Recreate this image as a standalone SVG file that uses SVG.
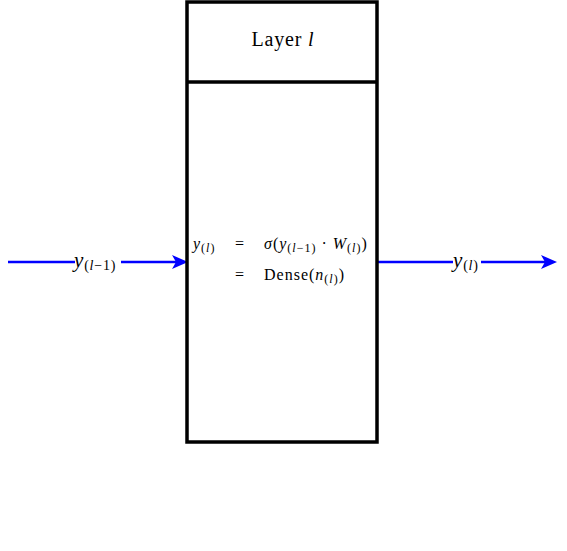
<svg xmlns="http://www.w3.org/2000/svg" width="567" height="551" viewBox="0 0 567 551">
  <style>
    .box { fill: #fff; stroke: #000; stroke-width: 3.5; }
    .rule { stroke: #000; stroke-width: 3.5; }
    .flow { stroke: #0000ff; stroke-width: 2.5; fill: none; }
    .head { fill: #0000ff; }
    .tx { font-family: "Liberation Serif", "DejaVu Serif", serif; fill: #000; }
    .it { font-style: italic; }
    .sub { font-size: 12px; }
    .lsub { font-size: 14px; }
    .lbl { fill: #fff; }
  </style>
  <rect width="567" height="551" fill="#fff"/>

  <g id="connectors">
    <line class="flow" x1="8" y1="262" x2="180" y2="262"/>
    <path class="head" d="M172,255 L188,262 L172,269 L176,262 Z"/>
    <line class="flow" x1="378" y1="262" x2="550" y2="262"/>
    <path class="head" d="M541,255 L557,262 L541,269 L545,262 Z"/>
  </g>

  <g id="input-label">
    <rect class="lbl" x="75" y="250" width="46" height="22"/>
    <text class="tx" x="74" y="267" letter-spacing="0.8"><tspan class="it" font-size="21">y</tspan><tspan class="lsub" dy="3">(</tspan><tspan class="lsub it">l</tspan><tspan class="lsub">−1)</tspan></text>
  </g>

  <g id="output-label">
    <rect class="lbl" x="453" y="250" width="28" height="22"/>
    <text class="tx" x="453" y="267" letter-spacing="0.8"><tspan class="it" font-size="21">y</tspan><tspan class="lsub" dy="3">(</tspan><tspan class="lsub it">l</tspan><tspan class="lsub">)</tspan></text>
  </g>

  <g id="layer">
    <rect class="box" x="187" y="2" width="190" height="440"/>
    <line class="rule" x1="187" y1="82" x2="377" y2="82"/>
    <text class="tx" x="283" y="46" font-size="20" letter-spacing="0.8" text-anchor="middle">Layer <tspan class="it">l</tspan></text>
    <text class="tx" font-size="16" letter-spacing="1">
      <tspan x="193" y="249" class="it">y</tspan><tspan class="sub" dy="3">(</tspan><tspan class="sub it">l</tspan><tspan class="sub">)</tspan>
      <tspan x="235" y="249">=</tspan>
      <tspan x="264" y="249" class="it">σ</tspan><tspan>(</tspan><tspan class="it">y</tspan><tspan class="sub" dy="3">(</tspan><tspan class="sub it">l</tspan><tspan class="sub">−1)</tspan><tspan dy="-3"> · </tspan><tspan class="it">W</tspan><tspan class="sub" dy="3">(</tspan><tspan class="sub it">l</tspan><tspan class="sub">)</tspan><tspan dy="-3">)</tspan>
      <tspan x="235" y="280">=</tspan>
      <tspan x="264" y="280">Dense(</tspan><tspan class="it">n</tspan><tspan class="sub" dy="3">(</tspan><tspan class="sub it">l</tspan><tspan class="sub">)</tspan><tspan dy="-3">)</tspan>
    </text>
  </g>
</svg>
